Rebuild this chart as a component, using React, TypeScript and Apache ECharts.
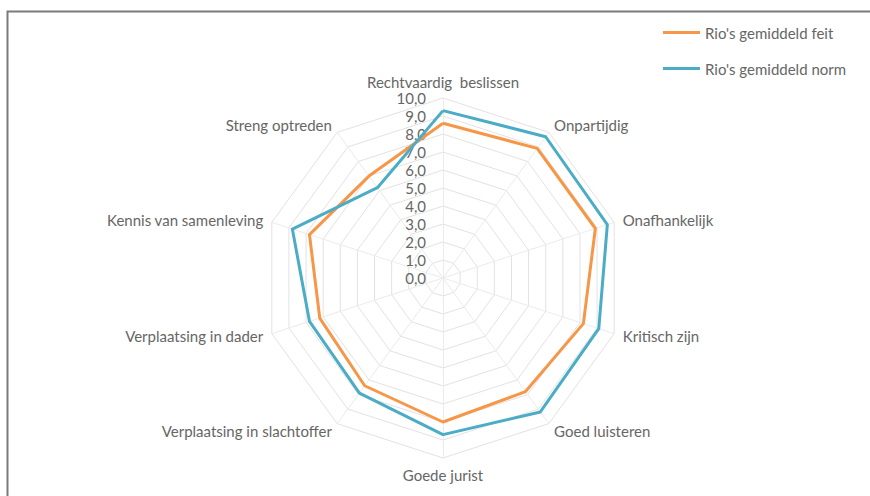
import React, { useEffect, useRef } from "react";
import * as echarts from "echarts";

const indicators = [
  "Rechtvaardig  beslissen",
  "Onpartijdig",
  "Onafhankelijk",
  "Kritisch zijn",
  "Goed luisteren",
  "Goede jurist",
  "Verplaatsing in slachtoffer",
  "Verplaatsing in dader",
  "Kennis van samenleving",
  "Streng optreden",
];
const feit = [8.6, 8.9, 8.9, 8.2, 7.8, 8.0, 7.4, 7.2, 7.8, 7.0];
const norm = [9.3, 9.7, 9.6, 9.1, 9.2, 8.7, 7.9, 7.8, 8.8, 6.2];
const seriesNames = ["Rio's gemiddeld feit", "Rio's gemiddeld norm"];
const colors = ["#F79646", "#4BACC6"];
const maxValue = 10;

// ECharts radar runs counter-clockwise; reorder to make it clockwise
const order = [0, ...indicators.slice(1).map((_, i) => indicators.length - 1 - i)];
const reorder = <T,>(arr: T[]) => order.map((i) => arr[i]);

export default function App() {
  const ref = useRef<HTMLDivElement>(null);
  useEffect(() => {
    if (!ref.current) return;
    const chart = echarts.init(ref.current, null, { renderer: "svg" });
    const font = "Lato, 'Noto Sans', sans-serif";
    chart.setOption({
      animation: false,
      backgroundColor: "#ffffff",
      graphic: [
        {
          type: "rect",
          shape: { x: 7.5, y: 11.5, width: 900, height: 600 },
          style: { fill: "none", stroke: "#7a7a7a", lineWidth: 2 },
          silent: true,
        },
      ],
      legend: {
        orient: "vertical",
        left: 658,
        top: 20,
        icon: "rect",
        itemWidth: 37,
        itemHeight: 3,
        itemGap: 21,
        textStyle: { color: "#666666", fontSize: 15, fontFamily: font },
        data: seriesNames,
      },
      radar: {
        center: [443, 278],
        radius: 180,
        startAngle: 90,
        splitNumber: 10,
        shape: "polygon",
        nameGap: 9,
        indicator: reorder(indicators).map((n) => ({ name: n, min: 0, max: maxValue })),
        axisName: { color: "#666666", fontSize: 15, fontFamily: font },
        splitLine: { lineStyle: { color: "#e2e2e2", width: 1 } },
        splitArea: { show: false },
        axisLine: { lineStyle: { color: "#ebebeb", width: 1 } },
        axisTick: { show: false },
        axisLabel: { show: false },
      },
      polar: { center: [443, 278], radius: 180 },
      angleAxis: {
        startAngle: 90,
        show: false,
        min: 0,
        max: 360,
      },
      radiusAxis: {
        min: 0,
        max: maxValue,
        interval: 1,
        axisLine: { show: false },
        axisTick: { show: false },
        splitLine: { show: false },
        axisLabel: {
          color: "#666666",
          fontSize: 15,
          fontFamily: font,
          margin: 17,
          formatter: (v: number) => v.toFixed(1).replace(".", ","),
        },
      },
      series: [
        {
          type: "radar",
          symbol: "none",
          data: [
            {
              name: seriesNames[0],
              value: reorder(feit),
              lineStyle: { color: colors[0], width: 3 },
              itemStyle: { color: colors[0] },
            },
            {
              name: seriesNames[1],
              value: reorder(norm),
              lineStyle: { color: colors[1], width: 3 },
              itemStyle: { color: colors[1] },
            },
          ],
        },
      ],
    });
    return () => chart.dispose();
  }, []);
  return (
    <div
      ref={ref}
      style={{ position: "fixed", left: 0, top: 0, width: 870, height: 496 }}
    />
  );
}
